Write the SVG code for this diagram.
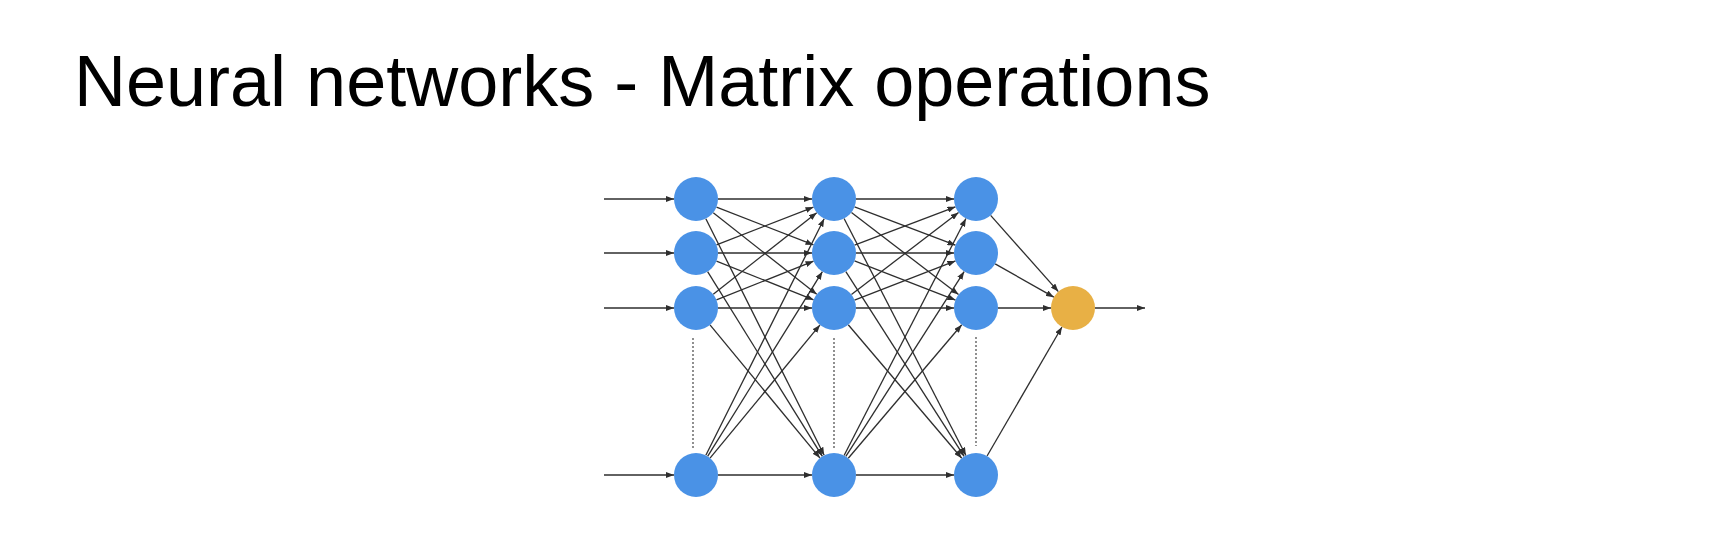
<svg xmlns="http://www.w3.org/2000/svg" width="1722" height="538" viewBox="0 0 1722 538">
<style>
.title{font-family:"Liberation Sans",Arial,Helvetica,sans-serif;font-size:72px;fill:#000}
.edge{stroke:#2e2e2e;stroke-width:1.3;fill:none;marker-end:url(#ah)}
.dot{stroke:#555;stroke-width:1.3;stroke-dasharray:2 2;fill:none}
.n{fill:#4a92e6}
.o{fill:#e8b045}
</style>
<defs>
<marker id="ah" markerUnits="userSpaceOnUse" markerWidth="8" markerHeight="6" refX="8" refY="3" orient="auto">
<path d="M0,0 L8,3 L0,6 z" fill="#2e2e2e"/>
</marker>
</defs>
<rect width="1722" height="538" fill="#fff"/>
<text class="title" x="74" y="106">Neural networks - Matrix operations</text>
<g id="connectors">
<line class="edge" x1="604" y1="199" x2="674" y2="199"/>
<line class="edge" x1="604" y1="253" x2="674" y2="253"/>
<line class="edge" x1="604" y1="308" x2="674" y2="308"/>
<line class="edge" x1="604" y1="475" x2="674" y2="475"/>
<line class="edge" x1="718" y1="199" x2="812" y2="199"/>
<line class="edge" x1="716.49" y1="207.02" x2="813.51" y2="244.98"/>
<line class="edge" x1="713.26" y1="212.64" x2="816.74" y2="294.36"/>
<line class="edge" x1="705.84" y1="218.68" x2="824.16" y2="455.32"/>
<line class="edge" x1="716.49" y1="244.98" x2="813.51" y2="207.02"/>
<line class="edge" x1="718" y1="253" x2="812" y2="253"/>
<line class="edge" x1="716.44" y1="261.14" x2="813.56" y2="299.86"/>
<line class="edge" x1="707.61" y1="271.68" x2="822.39" y2="456.32"/>
<line class="edge" x1="713.26" y1="294.36" x2="816.74" y2="212.64"/>
<line class="edge" x1="716.44" y1="299.86" x2="813.56" y2="261.14"/>
<line class="edge" x1="718" y1="308" x2="812" y2="308"/>
<line class="edge" x1="710.01" y1="324.96" x2="819.99" y2="458.04"/>
<line class="edge" x1="705.84" y1="455.32" x2="824.16" y2="218.68"/>
<line class="edge" x1="707.61" y1="456.32" x2="822.39" y2="271.68"/>
<line class="edge" x1="710.01" y1="458.04" x2="819.99" y2="324.96"/>
<line class="edge" x1="718" y1="475" x2="812" y2="475"/>
<line class="edge" x1="856" y1="199" x2="954" y2="199"/>
<line class="edge" x1="854.56" y1="206.82" x2="955.44" y2="245.18"/>
<line class="edge" x1="851.45" y1="212.40" x2="958.55" y2="294.60"/>
<line class="edge" x1="844.06" y1="218.56" x2="965.94" y2="455.44"/>
<line class="edge" x1="854.56" y1="245.18" x2="955.44" y2="206.82"/>
<line class="edge" x1="856" y1="253" x2="954" y2="253"/>
<line class="edge" x1="854.51" y1="260.95" x2="955.49" y2="300.05"/>
<line class="edge" x1="845.85" y1="271.53" x2="964.15" y2="456.47"/>
<line class="edge" x1="851.45" y1="294.60" x2="958.55" y2="212.40"/>
<line class="edge" x1="854.51" y1="300.05" x2="955.49" y2="260.95"/>
<line class="edge" x1="856" y1="308" x2="954" y2="308"/>
<line class="edge" x1="848.25" y1="324.76" x2="961.75" y2="458.24"/>
<line class="edge" x1="844.06" y1="455.44" x2="965.94" y2="218.56"/>
<line class="edge" x1="845.85" y1="456.47" x2="964.15" y2="271.53"/>
<line class="edge" x1="848.25" y1="458.24" x2="961.75" y2="324.76"/>
<line class="edge" x1="856" y1="475" x2="954" y2="475"/>
<line class="edge" x1="990.63" y1="215.43" x2="1058.37" y2="291.57"/>
<line class="edge" x1="995.14" y1="263.85" x2="1053.86" y2="297.15"/>
<line class="edge" x1="998" y1="308" x2="1051" y2="308"/>
<line class="edge" x1="987.05" y1="455.98" x2="1061.95" y2="326.98"/>
<line class="edge" x1="1095" y1="308" x2="1145" y2="308"/>
<line class="dot" x1="693" y1="338" x2="693" y2="448"/>
<line class="dot" x1="834" y1="338" x2="834" y2="448"/>
<line class="dot" x1="976" y1="337" x2="976" y2="446"/>
</g>
<g id="n1_1"><circle class="n" cx="696" cy="199" r="22"/></g>
<g id="n1_2"><circle class="n" cx="696" cy="253" r="22"/></g>
<g id="n1_3"><circle class="n" cx="696" cy="308" r="22"/></g>
<g id="n1_4"><circle class="n" cx="696" cy="475" r="22"/></g>
<g id="n2_1"><circle class="n" cx="834" cy="199" r="22"/></g>
<g id="n2_2"><circle class="n" cx="834" cy="253" r="22"/></g>
<g id="n2_3"><circle class="n" cx="834" cy="308" r="22"/></g>
<g id="n2_4"><circle class="n" cx="834" cy="475" r="22"/></g>
<g id="n3_1"><circle class="n" cx="976" cy="199" r="22"/></g>
<g id="n3_2"><circle class="n" cx="976" cy="253" r="22"/></g>
<g id="n3_3"><circle class="n" cx="976" cy="308" r="22"/></g>
<g id="n3_4"><circle class="n" cx="976" cy="475" r="22"/></g>
<g id="out"><circle class="o" cx="1073" cy="308" r="22"/></g>
</svg>
